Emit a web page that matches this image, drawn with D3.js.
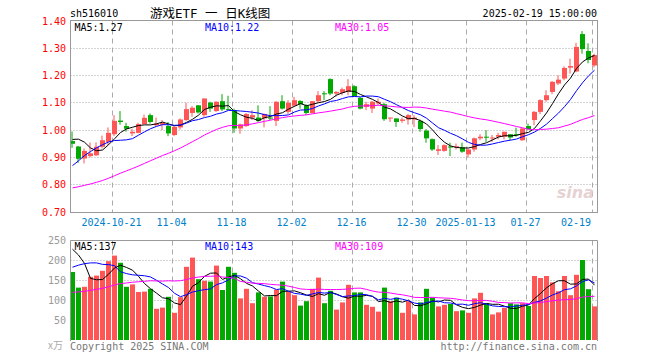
<!DOCTYPE html>
<html><head><meta charset="utf-8">
<script src="https://cdn.jsdelivr.net/npm/d3@7"></script>
<style>body{margin:0;background:#fff}svg{display:block}</style>
</head><body><svg id="c" width="660" height="360"></svg>
<script>
// ---------- data ----------
const code = "sh516010";
const title = "游戏ETF 一 日K线图";
const stamp = "2025-02-19 15:00:00";
const dates = [
"2024-10-10","2024-10-11","2024-10-14","2024-10-15","2024-10-16","2024-10-17","2024-10-18","2024-10-21","2024-10-22","2024-10-23",
"2024-10-24","2024-10-25","2024-10-28","2024-10-29","2024-10-30","2024-10-31","2024-11-01","2024-11-04","2024-11-05","2024-11-06",
"2024-11-07","2024-11-08","2024-11-11","2024-11-12","2024-11-13","2024-11-14","2024-11-15","2024-11-18","2024-11-19","2024-11-20",
"2024-11-21","2024-11-22","2024-11-25","2024-11-26","2024-11-27","2024-11-28","2024-11-29","2024-12-02","2024-12-03","2024-12-04",
"2024-12-05","2024-12-06","2024-12-09","2024-12-10","2024-12-11","2024-12-12","2024-12-13","2024-12-16","2024-12-17","2024-12-18",
"2024-12-19","2024-12-20","2024-12-23","2024-12-24","2024-12-25","2024-12-26","2024-12-27","2024-12-30","2024-12-31","2025-01-02",
"2025-01-03","2025-01-06","2025-01-07","2025-01-08","2025-01-09","2025-01-10","2025-01-13","2025-01-14","2025-01-15","2025-01-16",
"2025-01-17","2025-01-20","2025-01-21","2025-01-22","2025-01-23","2025-01-24","2025-01-27","2025-02-05","2025-02-06","2025-02-07",
"2025-02-10","2025-02-11","2025-02-12","2025-02-13","2025-02-14","2025-02-17","2025-02-18","2025-02-19"];
const open = [0.96,0.94,0.896,0.905,0.908,0.939,0.957,0.985,1.035,1.015,
0.988,0.99,1.022,1.055,1.018,1.02,1.015,0.982,1.01,1.037,
1.063,1.091,1.055,1.101,1.07,1.106,1.077,1.073,1.006,1.015,
1.046,1.046,1.043,1.046,1.034,1.106,1.067,1.09,1.107,1.091,
1.063,1.106,1.135,1.187,1.134,1.137,1.14,1.161,1.118,1.085,
1.079,1.098,1.095,1.043,1.043,1.034,1.039,1.039,1.034,0.998,
0.967,0.924,0.924,0.94,0.937,0.937,0.911,0.929,0.97,0.976,
0.97,0.976,0.976,0.985,0.985,0.963,1.015,1.037,1.067,1.11,
1.14,1.171,1.189,1.229,1.215,1.352,1.29,1.237];
const high = [0.995,0.942,0.933,0.955,0.955,0.98,1.01,1.055,1.07,1.027,
1.005,1.027,1.057,1.061,1.046,1.037,1.03,1.015,1.043,1.10,
1.088,1.092,1.116,1.104,1.106,1.132,1.126,1.079,1.024,1.063,
1.073,1.091,1.061,1.088,1.106,1.128,1.11,1.122,1.11,1.095,
1.107,1.143,1.143,1.19,1.143,1.156,1.187,1.165,1.122,1.104,
1.107,1.116,1.10,1.046,1.043,1.046,1.059,1.055,1.039,1.004,
0.97,0.945,0.948,0.954,0.951,0.954,0.933,0.973,0.985,1.0,
0.982,0.99,0.994,0.985,1.009,1.009,1.024,1.07,1.113,1.146,
1.18,1.201,1.234,1.262,1.32,1.363,1.318,1.28];
const low = [0.935,0.88,0.878,0.90,0.905,0.933,0.945,0.978,1.02,0.994,
0.978,0.988,1.021,1.024,1.012,1.0,0.978,0.978,1.002,1.034,
1.049,1.061,1.049,1.067,1.067,1.07,1.073,0.99,0.987,1.012,
1.037,1.03,1.01,1.037,1.015,1.076,1.059,1.085,1.079,1.055,
1.061,1.10,1.11,1.128,1.123,1.128,1.128,1.122,1.076,1.073,
1.063,1.09,1.034,1.03,1.012,1.027,1.02,1.011,0.994,0.954,
0.924,0.909,0.921,0.905,0.929,0.917,0.899,0.921,0.963,0.957,
0.957,0.966,0.966,0.963,0.976,0.961,1.0,1.018,1.059,1.104,
1.132,1.165,1.183,1.207,1.212,1.28,1.245,1.23];
const close = [0.95,0.895,0.924,0.915,0.939,0.963,0.99,1.034,1.03,1.005,
0.994,1.022,1.045,1.03,1.024,1.027,0.988,1.012,1.039,1.077,
1.082,1.065,1.116,1.079,1.104,1.076,1.075,1.006,1.021,1.059,
1.055,1.034,1.059,1.043,1.104,1.079,1.10,1.11,1.095,1.063,
1.106,1.128,1.133,1.134,1.14,1.15,1.161,1.124,1.079,1.095,
1.104,1.104,1.04,1.046,1.03,1.039,1.055,1.046,1.004,0.97,
0.929,0.93,0.945,0.937,0.941,0.921,0.929,0.97,0.976,0.973,
0.973,0.982,0.994,0.973,0.982,1.006,1.004,1.067,1.11,1.128,
1.177,1.185,1.228,1.235,1.305,1.297,1.257,1.275];
// closes of the 29 sessions before the first candle (for moving averages)
const priorClose = [0.77,0.77,0.76,0.76,0.76,0.75,0.75,0.75,0.75,0.74,
0.75,0.75,0.74,0.74,0.74,0.74,0.73,0.74,0.73,0.73,
0.72,0.73,0.77,0.80,0.85,0.89,0.98,1.02,0.99];
// volume, unit 万
const volume = [170,131,133,158,161,173,197,211,193,133,
139,120,121,128,78,81,108,68,107,183,
206,152,148,146,186,125,183,168,104,128,
92,119,108,109,126,146,121,112,86,97,
128,156,92,123,76,94,138,119,119,88,
83,71,131,97,106,68,97,64,94,128,
106,84,88,90,72,74,68,104,118,92,
64,69,80,92,89,92,85,160,155,160,
144,122,160,112,163,200,127,84];
const priorVolume = [95,90,85,88,92,80,78,85,90,82,
86,84,88,95,90,85,82,88,92,95,
80,95,140,160,210,204,237,346,178];
const tickDates = ["2024-10-21","2024-11-04","2024-11-18","2024-12-02","2024-12-16","2024-12-30","2025-01-13","2025-01-27","2025-02-19"];
const tickLabels = ["2024-10-21","11-04","11-18","12-02","12-16","12-30","2025-01-13","01-27","02-19"];
const priceTicks = [0.70,0.80,0.90,1.00,1.10,1.20,1.30,1.40];
const volTicks = [50,100,150,200,250];
const maPeriods = [5,10,30];

// ---------- setup ----------
const W = 660, H = 360;
const L = 70.5, R = 597.5;
const svg = d3.select("#c");
svg.append("rect").attr("width",W).attr("height",H).attr("fill","#fff");
const mono = "'DejaVu Sans Mono', monospace";
const RED = "#ff5555", GREEN = "#00a800", GRID = "#aaaaaa", FRAME = "#999999";
const maColors = ["#000000","#0000ff","#ff00ff"];

const x = d3.scaleBand().domain(dates).range([69.5, 597.5]).padding(0);
const yP = d3.scaleLinear().domain([0.70,1.40]).range([212,21]);
const yV = d3.scaleLinear().domain([0,250]).range([340,240]);
const cx = d => x(d) + 3;
const crisp = v => Math.round(v) + 0.5;

function movingAvg(prior, vals, n){
  const all = prior.concat(vals);
  const off = prior.length;
  return vals.map((_,i) => d3.mean(all.slice(off+i-n+1, off+i+1)));
}

// ---------- header ----------
svg.append("text").attr("x",70).attr("y",13).attr("dy","0.35em")
  .attr("font-family",mono).attr("font-size",10).attr("fill","#000").text(code);
svg.append("text").attr("x",150).attr("y",13).attr("dy","0.36em")
  .attr("font-family","'DejaVu Sans Mono', 'Noto Sans CJK SC', sans-serif").attr("font-size",12.5).attr("fill","#000")
  .attr("xml:space","preserve").style("white-space","pre").text(title);
svg.append("text").attr("x",597).attr("y",13).attr("dy","0.35em").attr("text-anchor","end")
  .attr("font-family",mono).attr("font-size",10).attr("fill","#000").text(stamp);

// ---------- grids ----------
function panelGrid(top, bottom, yScale, ticks){
  const g = svg.append("g");
  ticks.forEach(t => {
    const yy = crisp(yScale(t) - 0.5);
    if (yy > top + 1 && yy < bottom - 1)
      g.append("line").attr("x1",L).attr("x2",R).attr("y1",yy).attr("y2",yy)
        .attr("stroke",GRID).attr("stroke-dasharray","1,2");
  });
  tickDates.forEach(d => {
    const xx = x(d) + 1;
    g.append("line").attr("x1",xx).attr("x2",xx).attr("y1",top).attr("y2",bottom)
      .attr("stroke",GRID).attr("stroke-dasharray","5,4");
  });
}
panelGrid(20.5, 212.5, yP, priceTicks);
panelGrid(240.5, 340, yV, volTicks);

// ---------- candles ----------
const cg = svg.append("g");
dates.forEach((d,i) => {
  const col = close[i] >= open[i] ? RED : GREEN;
  cg.append("line").attr("x1",cx(d)-0.5).attr("x2",cx(d)-0.5)
    .attr("y1",yP(high[i])).attr("y2",yP(low[i])).attr("stroke",col);
  const top = yP(Math.max(open[i],close[i])), bot = yP(Math.min(open[i],close[i]));
  cg.append("rect").attr("x",x(d)+0.5).attr("width",5)
    .attr("y",top).attr("height",Math.max(1,bot-top)).attr("fill",col);
});

// ---------- volume bars ----------
const vg = svg.append("g");
dates.forEach((d,i) => {
  const col = close[i] >= open[i] ? RED : GREEN;
  vg.append("rect").attr("x",x(d)+0.5).attr("width",5)
    .attr("y",yV(volume[i])).attr("height",yV(0)-yV(volume[i])).attr("fill",col);
});

// ---------- moving averages ----------
svg.append("clipPath").attr("id","cp").append("rect").attr("x",71).attr("y",21).attr("width",526).attr("height",191);
svg.append("clipPath").attr("id","cv").append("rect").attr("x",71).attr("y",241).attr("width",526).attr("height",99);
const priceMA = maPeriods.map(n => movingAvg(priorClose, close, n));
const volMA = maPeriods.map(n => movingAvg(priorVolume, volume, n));
priceMA.forEach((arr,k) => {
  svg.append("path").attr("clip-path","url(#cp)")
    .attr("d", d3.line().x((v,i)=>cx(dates[i])).y(v=>yP(v))(arr))
    .attr("fill","none").attr("stroke",maColors[k]).attr("stroke-width",1);
});
volMA.forEach((arr,k) => {
  svg.append("path").attr("clip-path","url(#cv)")
    .attr("d", d3.line().x((v,i)=>cx(dates[i])).y(v=>yV(v))(arr))
    .attr("fill","none").attr("stroke",maColors[k]).attr("stroke-width",1);
});

// ---------- frames ----------
svg.append("rect").attr("x",L).attr("y",20.5).attr("width",R-L).attr("height",192)
  .attr("fill","none").attr("stroke",FRAME);
svg.append("path").attr("d",`M${L},341V240.5H${R}V341`).attr("fill","none").attr("stroke",FRAME);

// ---------- axis labels ----------
priceTicks.forEach(t => {
  svg.append("text").attr("x",66).attr("y",yP(t)).attr("dy","0.35em").attr("text-anchor","end")
    .attr("font-family",mono).attr("font-size",10).attr("fill","#ff0000").text(t.toFixed(2));
});
volTicks.forEach(t => {
  svg.append("text").attr("x",66).attr("y",yV(t)).attr("dy","0.35em").attr("text-anchor","end")
    .attr("font-family",mono).attr("font-size",10).attr("fill","#999999").text(t);
});
svg.append("text").attr("x",63).attr("y",yV(0)+5).attr("dy","0.35em").attr("text-anchor","end")
  .attr("font-family","'Noto Sans CJK SC', sans-serif").attr("font-size",10).attr("fill","#aaaaaa").text("x万");
tickDates.forEach((d,k) => {
  const t = svg.append("text").attr("y",222).attr("dy","0.35em")
    .attr("font-family",mono).attr("font-size",10).attr("fill","#0080cc").text(tickLabels[k]);
  const xx = x(d) + 1;
  const w = tickLabels[k].length * 6.02;
  if (xx + w/2 > 592) t.attr("x",591).attr("text-anchor","end");
  else t.attr("x",xx-1).attr("text-anchor","middle");
});

// ---------- MA legends ----------
const legX = [74.5, 205, 335];
const names = ["MA5:","MA10:","MA30:"];
maPeriods.forEach((n,k) => {
  svg.append("text").attr("x",legX[k]).attr("y",27).attr("dy","0.35em")
    .attr("font-family",mono).attr("font-size",10).attr("fill",maColors[k])
    .text(names[k] + priceMA[k][priceMA[k].length-1].toFixed(2));
  svg.append("text").attr("x",legX[k]).attr("y",246).attr("dy","0.35em")
    .attr("font-family",mono).attr("font-size",10).attr("fill",maColors[k])
    .text(names[k] + Math.round(volMA[k][volMA[k].length-1]));
});

// ---------- footer ----------
svg.append("text").attr("x",70).attr("y",346).attr("dy","0.35em")
  .attr("font-family",mono).attr("font-size",10).attr("fill","#777777").text("Copyright 2025 SINA.COM");
svg.append("text").attr("x",597).attr("y",346).attr("dy","0.35em").attr("text-anchor","end")
  .attr("font-family",mono).attr("font-size",10).attr("fill","#777777").text("http://finance.sina.com.cn");
svg.append("text").attr("x",594).attr("y",198).attr("text-anchor","end")
  .attr("font-family","'DejaVu Sans', sans-serif").attr("font-style","italic").attr("font-weight","bold")
  .attr("font-size",16).attr("fill","#e0c8c8").attr("opacity",0.8).text("sina");
</script></body></html>
